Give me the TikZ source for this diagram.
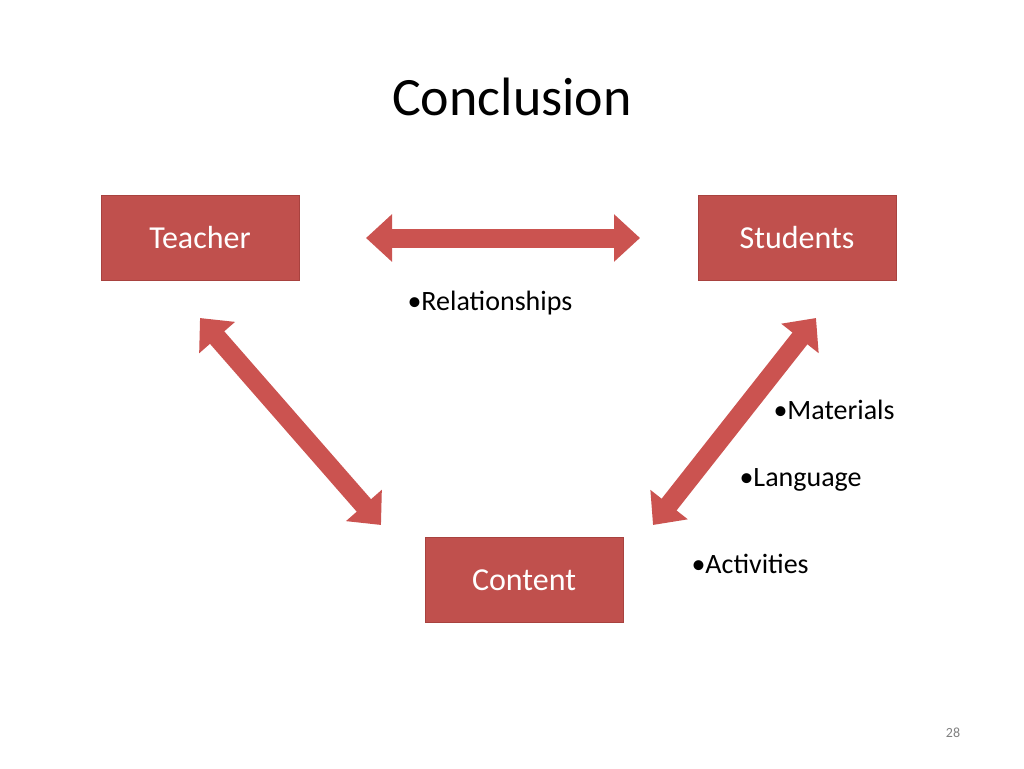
\documentclass[tikz,border=0pt]{standalone}
\usepackage{fontspec}
\setmainfont{Carlito}
\usetikzlibrary{arrows.meta}
\definecolor{boxred}{HTML}{C0504D}
\definecolor{boxedge}{HTML}{A8423F}
\definecolor{arrred}{HTML}{CB5350}
\tikzset{
  rolebox/.style={draw=boxedge, fill=boxred, text=white, minimum width=198pt, minimum height=85pt, font=\fontsize{32}{36}\selectfont},
  bigarrow/.style={draw=arrred, line width=19pt, {Triangle[length=26pt,width=46pt]}-{Triangle[length=26pt,width=46pt]}, shorten <=0pt},
  bullet/.style={anchor=west, font=\fontsize{28}{32}\selectfont}
}
\begin{document}
\begin{tikzpicture}[x=1pt,y=-1pt]
    \useasboundingbox (0,0) rectangle (1024,768);

    \node[font=\fontsize{54}{60}\selectfont] (title) at (512,97) {Conclusion};

    \node[rolebox] (teacher) at (200,238) {Teacher};
    \node[rolebox] (students) at (797,238) {Students};
    \node[rolebox] (content) at (524,580) {Content};

    \coordinate (h1) at (366,238);
    \coordinate (h2) at (640,238);
    \coordinate (l1) at (200,318);
    \coordinate (l2) at (381,525);
    \coordinate (r1) at (816,318);
    \coordinate (r2) at (653,525);

    \draw[bigarrow] (h1) -- (h2);
    \draw[bigarrow] (l1) -- (l2);
    \draw[bigarrow] (r1) -- (r2);

    \node[bullet] (rel) at (404,303) {•Relationships};
    \node[bullet] (mat) at (770,410) {•Materials};
    \node[bullet] (lang) at (736,480) {•Language};
    \node[bullet] (act) at (688,564) {•Activities};

    \node[text=gray, font=\fontsize{14}{16}\selectfont] (page) at (953,733) {28};
\end{tikzpicture}
\end{document}
